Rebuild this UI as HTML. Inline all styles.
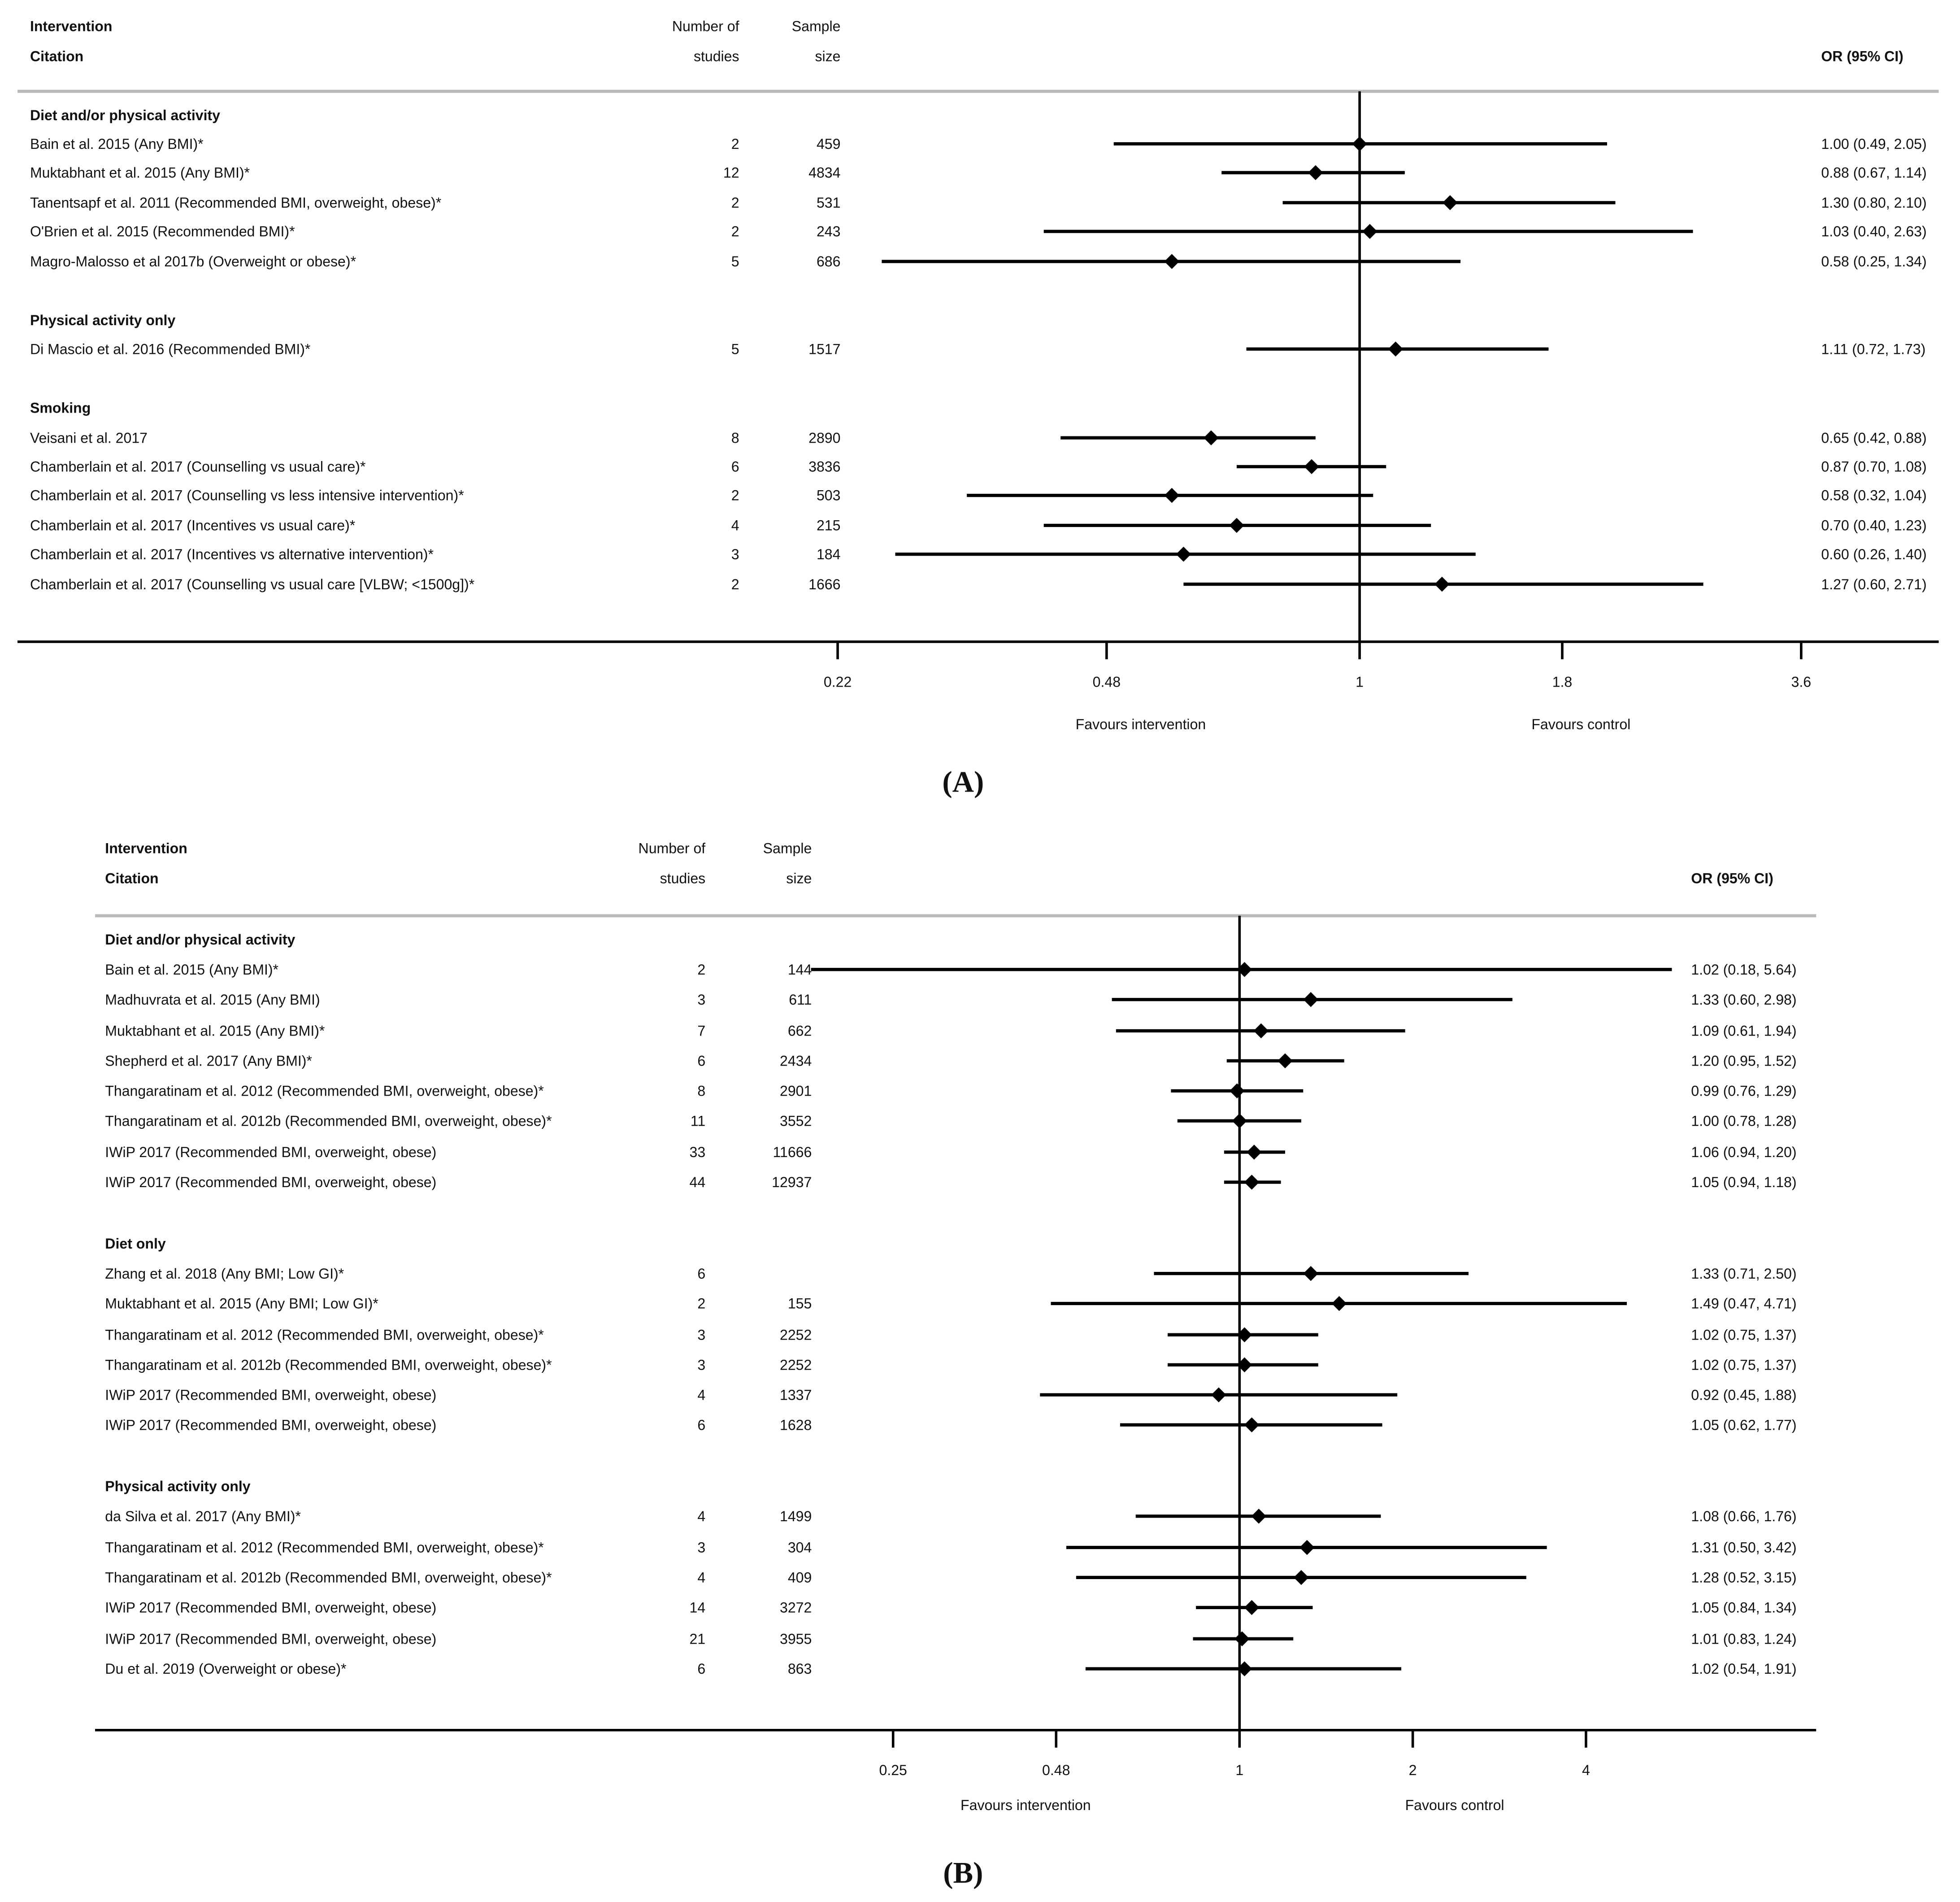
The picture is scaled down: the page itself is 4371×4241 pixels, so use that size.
<!DOCTYPE html>
<html><head><meta charset="utf-8"><style>
html,body{margin:0;padding:0;background:#fff}
svg{display:block}
text{font-family:"Liberation Sans Narrow","Liberation Sans",sans-serif;font-size:11.5px;fill:#111}
.b{font-weight:bold}
</style></head><body>
<svg id="chart" width="4371" height="4241" viewBox="0 0 1567 1520.4" preserveAspectRatio="none" xmlns="http://www.w3.org/2000/svg"></svg>
<script>
// Panel A data
const aGroups=["Diet and/or physical activity","Physical activity only","Smoking"];
const aGroupY=[92,256,326];
const aLabels=["Bain  et al. 2015 (Any BMI)*","Muktabhant et al. 2015 (Any BMI)*","Tanentsapf et al. 2011 (Recommended BMI, overweight, obese)*","O'Brien et al. 2015 (Recommended BMI)*","Magro-Malosso et al 2017b (Overweight or obese)*","Di Mascio et al. 2016 (Recommended BMI)*","Veisani et al. 2017","Chamberlain et al. 2017 (Counselling vs usual care)*","Chamberlain et al. 2017 (Counselling vs less intensive intervention)*","Chamberlain et al. 2017 (Incentives vs usual care)*","Chamberlain et al. 2017 (Incentives vs alternative intervention)*","Chamberlain et al. 2017 (Counselling vs usual care [VLBW; <1500g])*"];
const aStudies=["2","12","2","2","5","5","8","6","2","4","3","2"];
const aSample=["459","4834","531","243","686","1517","2890","3836","503","215","184","1666"];
const aOR=[1.00,0.88,1.30,1.03,0.58,1.11,0.65,0.87,0.58,0.70,0.60,1.27];
const aLo=[0.49,0.67,0.80,0.40,0.25,0.72,0.42,0.70,0.32,0.40,0.26,0.60];
const aHi=[2.05,1.14,2.10,2.63,1.34,1.73,0.88,1.08,1.04,1.23,1.40,2.71];
const aRowY=[115,138,162,185,209,279,350,373,396,420,443,467];
const aTicks=[0.22,0.48,1,1.8,3.6];
// Panel B data
const bGroups=["Diet and/or physical activity","Diet only","Physical activity only"];
const bGroupY=[751,994,1188];
const bLabels=["Bain  et al. 2015  (Any BMI)*","Madhuvrata et al. 2015  (Any BMI)","Muktabhant et al. 2015  (Any BMI)*","Shepherd et al. 2017  (Any BMI)*","Thangaratinam et al. 2012  (Recommended BMI, overweight, obese)*","Thangaratinam et al. 2012b  (Recommended BMI, overweight, obese)*","IWiP 2017  (Recommended BMI, overweight, obese)","IWiP 2017  (Recommended BMI, overweight, obese)","Zhang et al. 2018  (Any BMI; Low GI)*","Muktabhant et al. 2015  (Any BMI; Low GI)*","Thangaratinam et al. 2012  (Recommended BMI, overweight, obese)*","Thangaratinam et al. 2012b  (Recommended BMI, overweight, obese)*","IWiP 2017  (Recommended BMI, overweight, obese)","IWiP 2017  (Recommended BMI, overweight, obese)","da Silva et al. 2017 (Any BMI)*","Thangaratinam et al. 2012  (Recommended BMI, overweight, obese)*","Thangaratinam et al. 2012b  (Recommended BMI, overweight, obese)*","IWiP 2017  (Recommended BMI, overweight, obese)","IWiP 2017  (Recommended BMI, overweight, obese)","Du et al. 2019  (Overweight or obese)*"];
const bStudies=["2","3","7","6","8","11","33","44","6","2","3","3","4","6","4","3","4","14","21","6"];
const bSample=["144","611","662","2434","2901","3552","11666","12937","","155","2252","2252","1337","1628","1499","304","409","3272","3955","863"];
const bOR=[1.02,1.33,1.09,1.20,0.99,1.00,1.06,1.05,1.33,1.49,1.02,1.02,0.92,1.05,1.08,1.31,1.28,1.05,1.01,1.02];
const bLo=[0.18,0.60,0.61,0.95,0.76,0.78,0.94,0.94,0.71,0.47,0.75,0.75,0.45,0.62,0.66,0.50,0.52,0.84,0.83,0.54];
const bHi=[5.64,2.98,1.94,1.52,1.29,1.28,1.20,1.18,2.50,4.71,1.37,1.37,1.88,1.77,1.76,3.42,3.15,1.34,1.24,1.91];
const bRowY=[775,799,824,848,872,896,921,945,1018,1042,1067,1091,1115,1139,1212,1237,1261,1285,1310,1334];
const bTicks=[0.25,0.48,1,2,4];

const NS="http://www.w3.org/2000/svg";
const svg=document.getElementById('chart');
function el(tag,attrs,parent){const e=document.createElementNS(NS,tag);for(const k in attrs)e.setAttribute(k,attrs[k]);(parent||svg).appendChild(e);return e;}
function txt(s,x,y,anchor,cls,parent){const t=el('text',{x:x,y:y,'text-anchor':anchor||'start'},parent);if(cls)t.setAttribute('class',cls);t.textContent=s;return t;}
function fmt(v){return v.toFixed(2);}

function panel(cfg){
  const g=el('g',{});
  
  
  const xs=v=>cfg.x1+cfg.k*Math.log(v);
  const dy=4;
  let t;
  t=txt("Intervention",cfg.lx,cfg.hy1+dy,'start','b',g);
  t=txt("Citation",cfg.lx,cfg.hy2+dy,'start','b',g);
  t=txt("Number of",cfg.sx,cfg.hy1+dy,'end','',g);
  txt("studies",cfg.sx,cfg.hy2+dy,'end','',g);
  t=txt("Sample",cfg.nx,cfg.hy1+dy,'end','',g);
  txt("size",cfg.nx,cfg.hy2+dy,'end','',g);
  t=txt("OR (95% CI)",cfg.ox,cfg.hy2+dy,'start','b',g);
  let l=el('line',{x1:cfg.left,x2:cfg.right,y1:cfg.sepY,y2:cfg.sepY,stroke:'#bbb','stroke-width':2.5},g);
  
  cfg.groups.forEach((s,i)=>{const t=txt(s,cfg.lx,cfg.groupY[i]+dy,'start','b',g);});
  l=el('line',{x1:cfg.x1,x2:cfg.x1,y1:cfg.sepY,y2:cfg.axY,stroke:'#000','stroke-width':2},g);
  
  cfg.labels.forEach((s,i)=>{
    const y=cfg.rowY[i];
    const r=el('g',{},g);
    
    
    txt(s,cfg.lx,y+dy,'start','',r);
    txt(cfg.studies[i],cfg.sx,y+dy,'end','',r);
    txt(cfg.sample[i],cfg.nx,y+dy,'end','',r);
    txt(fmt(cfg.or[i])+" ("+fmt(cfg.lo[i])+", "+fmt(cfg.hi[i])+")",cfg.ox,y+dy,'start','',r);
    const ci=el('line',{x1:xs(cfg.lo[i]),x2:xs(cfg.hi[i]),y1:y,y2:y,stroke:'#000','stroke-width':2.6},r);
    
    
    const x=xs(cfg.or[i]),d=6;
    const dm=el('polygon',{points:`${x},${y-d} ${x+d},${y} ${x},${y+d} ${x-d},${y}`,fill:'#000'},r);
    
    
  });
  l=el('line',{x1:cfg.left,x2:cfg.right,y1:cfg.axY,y2:cfg.axY,stroke:'#000','stroke-width':2},g);
  
  cfg.ticks.forEach(v=>{
    const x=xs(v);
    const tk=el('line',{x1:x,x2:x,y1:cfg.axY,y2:cfg.axY+14,stroke:'#000','stroke-width':2},g);
    
    
    const t=txt(String(v),x,cfg.axY+36,'middle','',g);
    
    
  });
  t=txt("Favours intervention",cfg.fi,cfg.favY+dy,'middle','',g);
  t=txt("Favours control",cfg.fc,cfg.favY+dy,'middle','',g);
  t=el('text',{x:770,y:cfg.capY+8,'text-anchor':'middle',style:'font-family:"Liberation Serif",serif;font-size:24px;font-weight:bold'},g);
  t.textContent=cfg.cap;
}
panel({name:'panel-a',x1:1087,k:275.6,lx:24,sx:591,nx:672,ox:1456,hy1:21,hy2:45,sepY:73,left:14,right:1550,axY:513,favY:579,fi:912,fc:1264,capY:625,cap:'(A)',
  groups:aGroups,groupY:aGroupY,labels:aLabels,studies:aStudies,sample:aSample,or:aOR,lo:aLo,hi:aHi,rowY:aRowY,ticks:aTicks});
panel({name:'panel-b',x1:991,k:199.8,lx:84,sx:564,nx:649,ox:1352,hy1:678,hy2:702,sepY:732,left:76,right:1452,axY:1383,favY:1443,fi:820,fc:1163,capY:1497,cap:'(B)',
  groups:bGroups,groupY:bGroupY,labels:bLabels,studies:bStudies,sample:bSample,or:bOR,lo:bLo,hi:bHi,rowY:bRowY,ticks:bTicks});
</script>
</body></html>
